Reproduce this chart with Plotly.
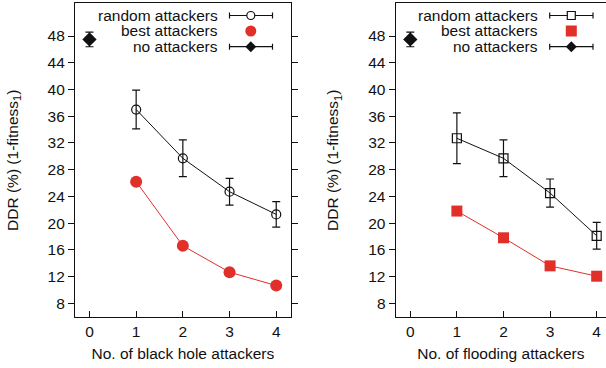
import plotly.graph_objects as go

W, H = 606, 368

# ---- data ----
attackers = [1, 2, 3, 4]
none_x = [0]
none_y = [47.5]
none_err = [1.1]

bh_random = [37.0, 29.7, 24.7, 21.3]
bh_random_err = [2.9, 2.75, 2.0, 1.9]
bh_best = [26.2, 16.6, 12.65, 10.65]

fl_random = [32.7, 29.7, 24.5, 18.1]
fl_random_err = [3.8, 2.75, 2.1, 2.0]
fl_best = [21.8, 17.8, 13.6, 12.05]

x_ticks = [0, 1, 2, 3, 4]
y_ticks = [8, 12, 16, 20, 24, 28, 32, 36, 40, 44, 48]
legend_labels = ["random attackers", "best attackers", "no attackers"]

RED = "#e1302a"
BLACK = "#111111"
FONT = "Liberation Sans, Arial, Helvetica, sans-serif"
FS = 15.5


def px(x):
    return x / W


def py(y):
    return 1 - y / H


fig = go.Figure()

panels = [
    dict(xa="x", ya="y", rnd=bh_random, err=bh_random_err, best=bh_best,
         rsym="circle-open", bsym="circle", rsize=9, bsize=12),
    dict(xa="x2", ya="y2", rnd=fl_random, err=fl_random_err, best=fl_best,
         rsym="square-open", bsym="square", rsize=9, bsize=11),
]

for p in panels:
    fig.add_trace(go.Scatter(
        x=attackers, y=p["rnd"], mode="lines+markers", xaxis=p["xa"], yaxis=p["ya"],
        line=dict(color=BLACK, width=1),
        marker=dict(symbol=p["rsym"], size=p["rsize"], color=BLACK, line=dict(width=1.2, color=BLACK)),
        error_y=dict(type="data", array=p["err"], visible=True, color=BLACK, thickness=1.2, width=4),
        showlegend=False, cliponaxis=False))
    fig.add_trace(go.Scatter(
        x=attackers, y=p["best"], mode="lines+markers", xaxis=p["xa"], yaxis=p["ya"],
        line=dict(color=RED, width=1),
        marker=dict(symbol=p["bsym"], size=p["bsize"], color=RED),
        showlegend=False, cliponaxis=False))
    fig.add_trace(go.Scatter(
        x=none_x, y=none_y, mode="markers", xaxis=p["xa"], yaxis=p["ya"],
        marker=dict(symbol="diamond", size=11, color=BLACK),
        error_y=dict(type="data", array=none_err, visible=True, color=BLACK, thickness=1.2, width=4),
        showlegend=False, cliponaxis=False))

yrange = [5.9, 52.9]
common_x = dict(tickvals=x_ticks, ticks="inside", ticklen=6, tickcolor=BLACK,
                showline=True, linecolor=BLACK, linewidth=1.2, mirror=True,
                showgrid=False, zeroline=False, automargin=False,
                tickfont=dict(family=FONT, size=FS, color=BLACK),
                title_font=dict(family=FONT, size=FS, color=BLACK))
common_y = dict(tickvals=y_ticks, range=yrange, ticks="outside", ticklen=6, tickcolor=BLACK,
                showline=True, linecolor=BLACK, linewidth=1.2, mirror="ticks",
                showgrid=False, zeroline=False, automargin=False, ticksuffix=" ",
                tickfont=dict(family=FONT, size=FS, color=BLACK),
                title=dict(text="DDR (%) (1-fitness<sub>1</sub>)", standoff=25,
                           font=dict(family=FONT, size=FS, color=BLACK)))

ydom = [py(317.3), py(3.3)]
fig.update_layout(
    width=W, height=H,
    margin=dict(l=0, r=0, t=0, b=0, pad=0, autoexpand=False),
    paper_bgcolor="white", plot_bgcolor="white",
    xaxis=dict(domain=[px(75), px(290.7)], range=[-0.31, 4.31],
               title=dict(text="No. of black hole attackers", standoff=9), **common_x),
    yaxis=dict(domain=ydom, anchor="x", **common_y),
    xaxis2=dict(domain=[px(395.7), 1.0], range=[-0.313, 4.2], anchor="y2",
                title=dict(text="No. of flooding attackers", standoff=9), **common_x),
    yaxis2=dict(domain=ydom, anchor="x2", **common_y),
)

# ---- manual legends (text right-aligned, key to the right) ----
shapes = []
annotations = []
rows_y = [15.5, 31.0, 46.7]
legend_cfg = [
    dict(text_end=220.0, l0=229.5, l1=272.5, sym=250.8, rsym="circle", bsym="circle"),
    dict(text_end=540.3, l0=549.7, l1=593.0, sym=571.3, rsym="square", bsym="square"),
]
for cfg in legend_cfg:
    for lab, ry in zip(legend_labels, rows_y):
        annotations.append(dict(text=lab, xref="paper", yref="paper",
                                x=px(cfg["text_end"]), y=py(ry), xanchor="right", yanchor="middle",
                                showarrow=False, font=dict(family=FONT, size=FS, color=BLACK)))
    # error-bar style keys for random and none
    for ry in (rows_y[0], rows_y[2]):
        shapes.append(dict(type="line", xref="paper", yref="paper",
                           x0=px(cfg["l0"]), x1=px(cfg["l1"]), y0=py(ry), y1=py(ry),
                           line=dict(color=BLACK, width=1.2)))
        for xe in (cfg["l0"], cfg["l1"]):
            shapes.append(dict(type="line", xref="paper", yref="paper",
                               x0=px(xe), x1=px(xe), y0=py(ry - 3), y1=py(ry + 3),
                               line=dict(color=BLACK, width=1.2)))
    cx = px(cfg["sym"])
    # random key symbol (open)
    shapes.append(dict(type="circle" if cfg["rsym"] == "circle" else "rect",
                       xref="paper", yref="paper", xsizemode="pixel", ysizemode="pixel",
                       xanchor=cx, yanchor=py(rows_y[0]), x0=-4, x1=4, y0=-4, y1=4,
                       fillcolor="white", line=dict(color=BLACK, width=1.2)))
    # best key symbol (filled red)
    shapes.append(dict(type="circle" if cfg["bsym"] == "circle" else "rect",
                       xref="paper", yref="paper", xsizemode="pixel", ysizemode="pixel",
                       xanchor=cx, yanchor=py(rows_y[1]), x0=-5.5, x1=5.5, y0=-5.5, y1=5.5,
                       fillcolor=RED, line=dict(color=RED, width=0)))
    # none key symbol (diamond)
    shapes.append(dict(type="path", xref="paper", yref="paper", xsizemode="pixel", ysizemode="pixel",
                       xanchor=cx, yanchor=py(rows_y[2]),
                       path="M -5.5 0 L 0 5.5 L 5.5 0 L 0 -5.5 Z",
                       fillcolor=BLACK, line=dict(color=BLACK, width=0)))

fig.update_layout(shapes=shapes, annotations=annotations)

fig.write_html("out.html", config={"displayModeBar": False},
               post_script="document.body.style.margin='0';document.body.style.padding='0';")
